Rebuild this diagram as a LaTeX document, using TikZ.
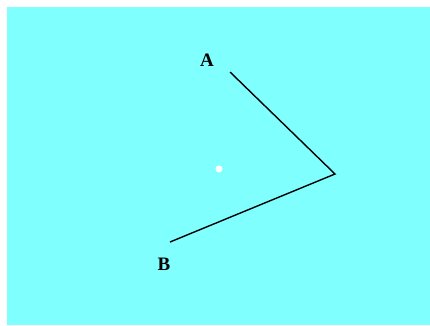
\documentclass[tikz,border=0pt]{standalone}
\usepackage{fontspec}
\setmainfont{Liberation Serif}
\usepackage{tikz}
\usetikzlibrary{positioning}
\definecolor{mycyan}{RGB}{128,255,255}
\definecolor{mydark}{RGB}{0,0,0}
\tikzset{
  ptlabel/.style={inner sep=0pt, font=\fontsize{19}{21}\selectfont\bfseries, text=mydark},
  side/.style={line width=1.4pt, color=mydark},
  dot/.style={circle, fill=white, draw=none, minimum size=7pt, inner sep=0pt}
}

\begin{document}
\begin{tikzpicture}[x=1pt, y=-1pt]
  \useasboundingbox (0,0) rectangle (430,325);
  \fill[mycyan] (7,7) rectangle (430,325);
  \coordinate (a) at (230,72);
  \coordinate (o) at (335,174);
  \coordinate (b) at (170,242);
  \node[ptlabel] (la) at (207,60) {A};
  \node[ptlabel] (lb) at (164,264) {B};
  \node[dot] (c) at (219,169) {};
  \draw[side] (a) -- (o) -- (b);
\end{tikzpicture}
\end{document}
